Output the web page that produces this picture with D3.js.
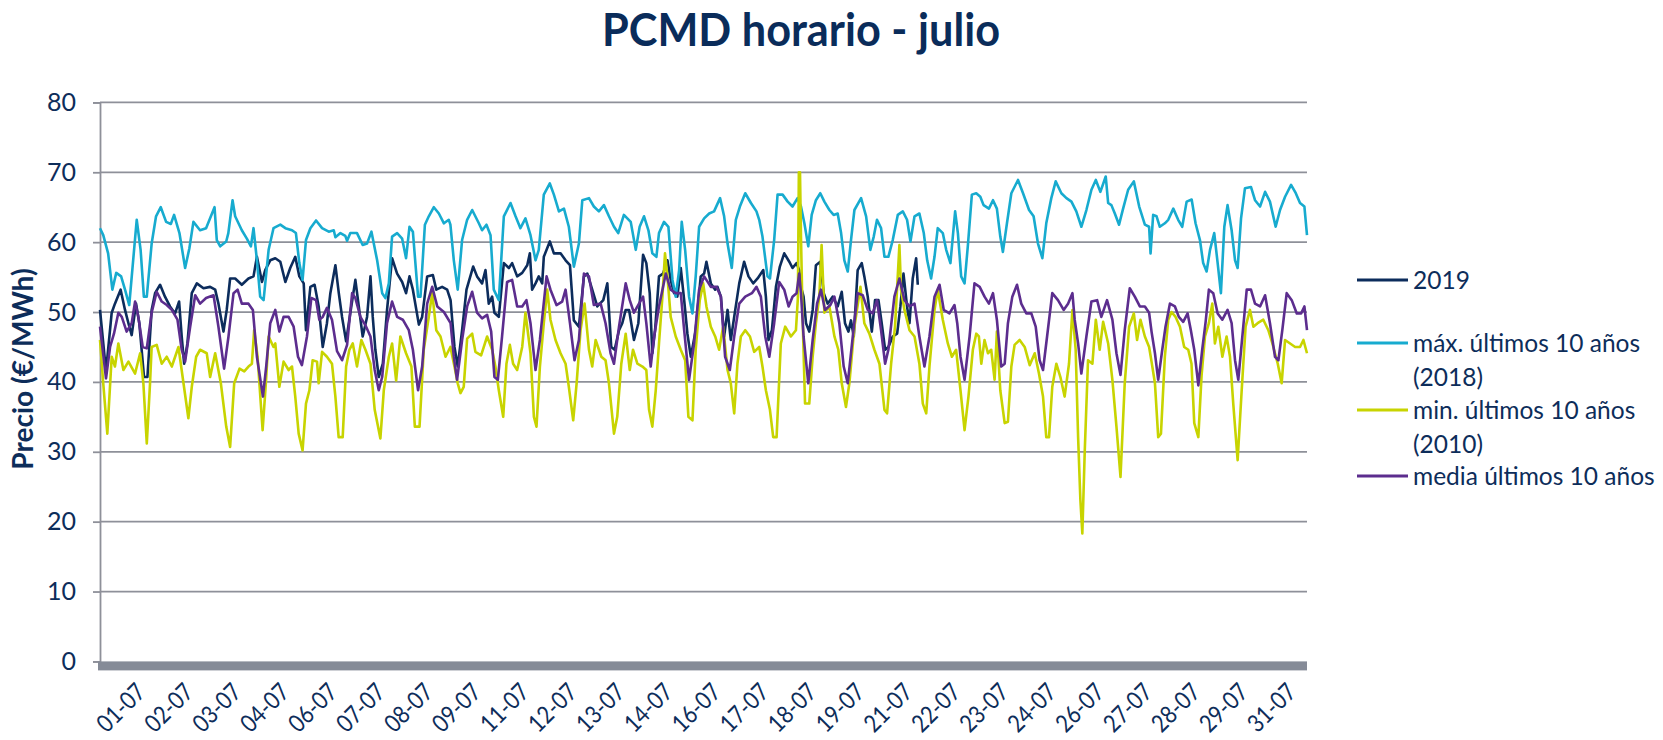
<!DOCTYPE html>
<html>
<head>
<meta charset="utf-8">
<script src="https://cdn.jsdelivr.net/npm/d3@7"></script>
<style>
  body { margin: 0; background: #fff; }
  svg text { font-family: Lato, "Open Sans", sans-serif; fill: #0d2d5a; }
</style>
</head>
<body>
<svg id="chart" width="1663" height="740"></svg>
<script>
// Hourly PCMD price, July. Each series is a list of [hour of month, €/MWh]
const serie2019 = [[0,50.3],[1.6,46.5],[3.7,41.5],[7.2,49.9],[9.2,51.2],[12.7,53.2],[15.4,50.3],[17.5,48.4],[19.5,46.7],[22.2,51.2],[24.2,48.4],[27.1,40.7],[29.2,40.7],[31.8,50.3],[33.9,52.7],[37,53.9],[40,52.2],[43.1,50.8],[46.2,49.8],[48.7,51.5],[50.3,46.5],[51.8,42.6],[53.8,45.5],[56.5,52.7],[59.6,54.1],[63.7,53.4],[67.8,53.6],[70.9,53.2],[72.9,51.2],[76,47.2],[78,50.3],[80.1,54.8],[83.2,54.8],[87.3,53.9],[91.4,54.8],[94.5,55.1],[96.6,57.9],[99.7,54.3],[101.7,56.0],[104.8,57.4],[107.9,57.7],
  [111,57.2],[114.1,54.3],[117.1,56.3],[120.2,57.9],[122.7,55.1],[125.4,54.1],[126.8,47.4],[129.5,53.6],[132.1,53.9],[134.6,50.8],[137.1,45.0],[139.7,48.4],[141.8,52.7],[144.9,56.7],[147,52.7],[149,49.3],[151.5,45.8],[154.1,49.9],[157.2,54.6],[159.3,50.8],[161.7,46.5],[164.4,49.3],[166.5,55.1],[167.9,49.3],[169.5,44.6],[171.6,40.7],[174.1,42.6],[176.7,50.3],[179.8,57.7],[182.9,55.5],[186,54.3],[188.4,52.7],[190.5,55.1],[192.6,53.2],[196.3,48.2],[198.3,49.3],[201.4,55.1],[204.9,55.3],[207,53.2],[210.6,53.6],[213.7,53.2],[215.8,51.7],
  [218.2,45.0],[220.2,42.2],[222.9,47.4],[225.6,53.2],[229.7,56.5],[232.1,55.1],[235.2,54.1],[237.3,56.0],[239.3,51.2],[241.4,52.2],[242.8,49.9],[245.5,49.3],[248.6,57.0],[251.7,56.3],[253.7,57.0],[256.8,55.1],[259.9,55.6],[263,56.7],[264.6,58.4],[266,53.2],[268.1,54.1],[270.1,55.1],[272.2,54.1],[273.2,57.9],[276.9,60.1],[279.4,58.4],[283.5,58.4],[286.6,57.4],[289.3,56.7],[291.7,48.8],[294.8,47.9],[297.9,55.1],[300,55.5],[303,53.2],[306.1,50.8],[309.8,51.7],[312.3,54.1],[314.7,45.0],[316.8,44.6],[319.5,47.4],[321.5,48.4],[323.6,50.3],
  [325.7,50.3],[328.7,46.0],[331.4,48.4],[334.3,58.2],[336.3,57.0],[338.4,52.7],[340,44.1],[341.7,47.4],[344.1,55.1],[346.6,55.5],[349.3,57.4],[351.3,54.6],[353.4,52.7],[355.4,52.2],[357.5,56.3],[359.6,51.7],[361.6,46.9],[363.7,43.6],[366.7,47.4],[369.8,55.1],[371.9,55.5],[373.3,57.2],[376,54.1],[378.7,53.2],[380.1,53.6],[382.2,52.2],[384.2,46.5],[386.3,50.3],[388.3,46.0],[390.4,49.3],[393.5,54.1],[396.5,57.2],[399.2,55.1],[402.1,54.1],[404.8,54.8],[408.3,56.0],[409.9,52.2],[411.5,46.0],[413.6,47.4],[416.1,53.6],[418.5,56.5],[421.2,58.4],[424.3,57.2],[426.3,56.3],[428.8,57.0],[430.4,56.0],
  [431.5,53.6],[433.1,52.2],[434.6,48.4],[436.6,47.2],[438.7,50.3],[440.7,56.7],[443.4,57.2],[445.5,52.7],[447.9,51.2],[451,52.2],[454.1,50.8],[456.6,52.9],[458.6,48.4],[460.7,47.2],[462.3,48.8],[464,46.5],[466.4,56.0],[468.9,57.0],[470.5,55.1],[472.6,52.2],[475.1,47.2],[477.1,51.7],[479.2,51.7],[481.2,48.4],[483.3,44.6],[485.3,45.0],[488,46.5],[490.7,46.9],[492.7,50.8],[494.6,55.5],[496.8,50.8],[498.3,48.4],[500.3,54.8],[502.4,57.7],[503.4,53.9]];

const max2018 = [[0,62.0],[2,61.0],[5,58.4],[7.6,53.2],[10,55.6],[13,55.1],[15.4,53.2],[18,51.0],[22.6,63.2],[25,58.9],[27,52.2],[28.8,52.2],[31.8,59.8],[34.5,63.7],[37.4,65.0],[40.7,62.9],[43.6,62.6],[45.6,63.9],[48.9,61.3],[52.4,56.3],[55,59.1],[57.5,62.9],[61.6,61.7],[65.3,62.0],[67.4,63.2],[70.5,65.0],[71.9,60.3],[74,59.4],[77.7,60.1],[79,61.3],[81.6,66.0],[83.2,63.7],[87.3,61.7],[90.4,60.5],[92.9,59.4],[94.5,62.0],[96.6,57.4],[98.6,52.2],[100.7,51.7],[103.8,58.9],[106.8,62.0],
  [111,62.5],[114.1,62.0],[118.2,61.7],[120.6,61.3],[122.7,57.0],[124.7,54.6],[126.8,60.3],[129.5,62.0],[133,63.1],[136.7,62.0],[140.8,61.5],[143.9,61.7],[144.9,60.7],[148,61.3],[151,60.9],[152.1,60.2],[154.1,61.3],[158.2,61.3],[161.7,59.6],[164.4,59.8],[167.1,61.5],[170.6,57.4],[173.7,52.7],[175.7,52.0],[177.8,54.1],[179.8,60.8],[182.9,61.3],[186,60.5],[188.4,57.7],[190.5,62.2],[192.6,61.5],[195.8,52.2],[197.3,52.2],[200,62.5],[202.4,63.7],[205.5,65.0],[208.6,64.1],[211.7,62.7],[214.7,63.2],
  [215.7,62.5],[217.8,57.4],[220.2,53.2],[222.9,60.3],[226,63.2],[229.1,64.6],[233.2,62.7],[235.2,61.7],[237.9,62.5],[240.4,61.0],[242.4,53.2],[245.5,51.7],[248.6,63.7],[252.7,65.6],[255.8,63.7],[258.8,62.0],[261.9,63.4],[265,61.0],[268.1,57.4],[270.1,58.9],[273.2,66.8],[276.9,68.4],[279.4,66.8],[282.5,64.4],[285.6,64.8],[288.6,62.2],[291.7,56.5],[294.8,59.8],[296.9,66.0],[301,66.3],[304,65.1],[307.1,64.4],[310.2,65.3],[313.3,63.7],[316.4,62.2],[319,61.3],[322.5,63.9],
  [326.7,62.9],[329.8,58.9],[332.2,62.2],[334.9,63.7],[337.6,61.7],[340,58.4],[342.5,57.9],[344.1,61.3],[347.2,62.9],[349.9,62.2],[352.4,54.6],[354.4,52.2],[356.5,56.0],[358.1,62.9],[360.2,58.9],[362.6,52.2],[364.7,49.8],[366.7,55.1],[368.8,62.2],[371.9,63.4],[375,64.1],[378,64.4],[381.7,66.3],[384.2,63.7],[386.3,59.8],[388.9,56.3],[391.4,63.2],[393.9,65.1],[397.2,67.0],[400.7,65.6],[404.1,64.4],[405.8,63.2],[407.8,60.8],[410.9,55.1],[412.4,54.8],[415,60.3],[417.1,66.8],[420.2,66.8],[423.3,65.8],[426.3,65.1],[429.4,66.3],
  [431.5,65.1],[433.6,62.7],[436,59.4],[438.1,63.9],[440.7,66.0],[443.4,67.0],[445.9,65.8],[449,64.6],[451.6,63.9],[454.1,64.1],[456.2,61.3],[458.2,57.4],[460.3,55.8],[462.3,60.3],[464.4,64.6],[468.5,66.3],[471.6,63.7],[474.2,58.9],[476.3,60.8],[478.3,63.2],[480.8,62.0],[482.9,57.9],[485.3,57.9],[488,60.3],[491.1,63.9],[494.2,64.4],[496.8,63.2],[498.9,60.1],[501.4,63.7],[504.4,64.1],[507.1,61.3],[509.2,57.4],[511.6,54.8],[513.7,57.9],[515.7,62.0],[518.8,61.3],[520.9,58.9],[523.5,57.0],[526.4,64.4],[528.1,61.3],[530.1,55.1],[532.2,54.1],[534.2,59.4],[536.7,66.8],
  [539.4,67.0],[541.9,66.5],[543.9,65.3],[547.2,64.8],[549.7,66.0],[552.1,64.8],[554.2,60.8],[555.8,58.6],[558.3,62.7],[561,67.0],[565.1,68.9],[568.2,67.0],[571.9,64.6],[574.7,63.7],[577.4,59.8],[580.1,57.7],[582.5,62.7],[585.6,66.3],[588.3,68.7],[591.8,67.0],[594.9,66.3],[598,65.8],[601,64.4],[604.1,62.2],[607.2,64.6],[610.3,67.5],[613,68.9],[615.8,67.2],[619.1,69.4],[620.6,65.6],[622.6,65.3],[624.7,64.1],[627.3,62.5],[629.8,64.8],[632.9,67.5],[636.4,68.7],[639.7,65.1],[643.2,62.5],[645.8,62.2],[646.7,58.4],
  [648.3,63.9],[650.4,63.7],[652.4,62.2],[655.5,62.7],[657.6,63.2],[660.7,64.8],[663.7,63.2],[666.2,62.2],[668.9,65.8],[672,66.1],[674.4,62.7],[677.1,60.3],[679.1,57.0],[681.2,55.8],[683.3,58.9],[685.9,61.3],[688,57.0],[690,52.7],[692.1,62.2],[694.1,65.3],[696.6,61.7],[698.7,57.4],[700.3,56.3],[702.4,63.4],[704.8,67.7],[708.5,67.9],[711,66.0],[714.1,65.1],[717.2,67.2],[720.2,65.8],[723.7,62.2],[726.4,64.6],[729.5,66.5],[733.2,68.2],[736.1,67.0],[738.7,65.6],[741.4,65.1],[743,61.0]];

const min2010 = [[0,46.0],[2,39.8],[4.5,32.6],[7.2,43.6],[9.2,42.2],[11.3,45.5],[14.4,41.7],[17.5,42.9],[21.6,41.2],[24.7,44.1],[26.7,39.8],[28.8,31.2],[30.8,39.8],[31.8,45.0],[34.9,45.3],[38,42.6],[41.1,43.6],[44.2,42.2],[48.3,45.0],[51.4,39.8],[54.4,34.8],[56.5,39.3],[59.2,43.6],[61.6,44.6],[65.7,44.1],[67.8,40.7],[70.9,44.1],[74.4,39.8],[77.7,33.6],[80.1,30.7],[82.6,39.8],[85.9,41.9],[88.8,41.5],[91.4,42.2],[93.5,42.6],[94.9,47.4],[97,43.6],[100.1,33.1],[102.1,39.8],[103.8,46.5],[106.8,45.0],
  [107.9,45.5],[110.4,39.3],[113,42.9],[116.1,41.7],[118.2,42.2],[120.2,37.9],[122.3,32.6],[124.7,30.2],[126.8,36.9],[128.9,38.8],[130.9,43.1],[133.6,42.9],[134.6,39.8],[136.7,44.3],[139.7,43.6],[142.8,42.6],[144.9,37.9],[146.9,32.1],[149.4,32.1],[151.5,42.2],[153.5,44.6],[155.6,45.5],[158.2,42.2],[160.9,46.0],[163.4,44.6],[166.5,42.6],[169.1,36.0],[172.6,31.9],[174.7,38.8],[177.8,43.6],[179.8,45.5],[182.3,40.2],[184.9,46.5],[188.4,44.1],[191.7,42.2],[193.8,33.6],[196.7,33.6],[199.3,44.6],[202.4,49.3],[204.5,52.7],[207,47.4],[209.6,46.5],[212.7,43.6],
  [215.7,45.0],[218.2,42.2],[220.2,39.8],[221.9,38.4],[223.9,39.3],[226,46.2],[229.1,46.9],[231.1,44.3],[234.6,43.8],[238.3,46.5],[241.4,44.6],[243.4,42.2],[245.5,38.8],[248.2,35.0],[250.2,42.6],[252.3,45.3],[254.3,42.6],[256.8,41.7],[259.9,45.0],[261.9,49.9],[265,44.1],[267.1,35.0],[268.7,33.6],[270.8,42.2],[273.2,48.4],[275.3,53.2],[277.3,48.9],[280.4,46.0],[283.5,44.1],[286.6,42.6],[288.6,39.3],[291.3,34.5],[293.4,39.8],[295.8,47.4],[298.3,51.2],[301,44.6],[303,42.2],[305.1,46.0],[308.6,43.6],[311.2,43.1],[313.3,39.8],[316.4,32.6],[318.4,35.0],[320.9,42.6],[323.6,46.9],
  [326.1,41.7],[328.1,44.6],[330.8,42.6],[333.9,42.2],[336.3,41.7],[338,36.0],[340,33.6],[342.1,38.8],[344.1,45.5],[346.2,52.2],[347.8,58.4],[349.3,55.1],[351.3,49.3],[354.4,46.5],[357.5,44.6],[360.2,43.1],[362.2,35.0],[364.7,34.5],[366.7,44.6],[369.2,51.7],[371.3,54.1],[373.3,50.8],[376,47.9],[378.7,46.5],[381.1,44.6],[383.6,47.9],[386.3,41.7],[388.3,39.8],[390.4,35.5],[392.4,42.6],[394.5,46.5],[397.2,47.4],[400.1,46.5],[402.7,44.3],[405.8,45.0],[407.8,42.2],[409.9,38.8],[412.4,36.0],[414.4,32.1],[416.5,32.1],[419.1,45.5],[421.8,47.9],[425.3,46.5],[428.4,47.4],[429.6,52.0],[430.2,70.0],[430.9,70.0],
  [431.5,60.8],[432.5,49.3],[434,36.9],[436.6,36.9],[438.7,43.6],[440.7,48.4],[442.8,52.2],[444.2,59.6],[445.9,49.9],[449,50.8],[452.1,46.5],[454.5,44.6],[456.6,39.8],[459.2,36.4],[461.3,39.8],[464.4,47.9],[468.1,53.6],[470.5,48.4],[473.6,46.9],[476.7,44.6],[479.8,42.6],[482.9,36.0],[484.5,35.5],[487,42.6],[489.4,47.9],[492.1,59.6],[493.1,53.2],[495.2,50.3],[498.3,47.4],[501.4,46.5],[504.4,42.6],[506.5,36.9],[508.6,35.5],[510.6,42.2],[513.7,50.3],[515.7,53.2],[518.8,48.9],[521.9,45.5],[524.4,43.6],[527,44.6],[529.7,38.8],[532.2,33.1],[534.6,37.9],[537.3,44.6],
  [539.4,46.9],[541,46.5],[542.5,42.6],[544.5,46.0],[546.6,44.1],[548.6,44.6],[550.7,40.3],[552.1,47.2],[554.2,38.8],[556.9,34.1],[558.9,34.3],[561,42.2],[563,45.3],[566.1,46.0],[569.2,45.0],[572.3,42.4],[575.4,44.1],[578,41.2],[580.5,37.9],[582.5,32.1],[584.2,32.1],[586.2,39.3],[588.7,42.6],[591.2,40.7],[593.8,37.9],[596.5,42.6],[598.6,50.3],[600.6,44.6],[602.1,32.1],[603.5,23.1],[604.7,18.3],[606.2,30.2],[608.2,43.1],[610.9,42.6],[613,48.9],[615.4,44.6],[617.5,48.6],[620.6,45.5],[623.2,40.3],[625.7,33.6],[628.2,26.4],[630.8,39.8],[633.5,47.9],[636.4,49.8],[638.4,46.0],[640.5,48.9],[643.2,46.5],[645.8,45.0],[647.3,42.9],
  [649.4,39.8],[651.4,32.1],[653.1,32.6],[655.5,43.6],[657.6,48.9],[659.6,50.0],[662.1,49.3],[664.8,47.9],[667.4,45.0],[669.9,44.6],[671.9,42.6],[673.6,34.1],[676.1,32.1],[678.1,40.9],[680.2,46.5],[682.6,48.4],[684.7,51.2],[686.3,45.5],[688.4,47.9],[690.9,43.6],[693.5,46.5],[695.6,43.6],[697.6,36.9],[700.3,28.8],[702.8,38.8],[705.2,47.9],[707.9,50.3],[710,47.9],[712.6,48.4],[716.1,48.9],[719.2,47.4],[721.7,45.5],[725,42.6],[727.4,39.8],[729.5,46.0],[732.6,45.5],[735.7,45.0],[738.7,45.0],[740.8,46.0],[743,44.1]];

const media10 = [[0,47.9],[3.7,40.5],[6.2,45.0],[8.6,46.9],[11.3,49.9],[13.4,49.3],[16.4,47.2],[19.5,48.4],[21.6,51.5],[23.6,49.3],[26.3,45.0],[28.8,44.8],[31.8,49.9],[34.9,52.9],[38,51.5],[41.1,51.0],[44.2,50.3],[47.7,48.9],[50.3,44.6],[52.4,42.9],[55.5,47.9],[58.6,52.4],[61.6,51.2],[65.3,52.0],[69.9,52.4],[72.9,47.9],[76.4,41.9],[79.1,46.5],[82.2,52.7],[84.7,53.2],[87.3,51.2],[91.4,51.2],[94.1,50.3],[96.6,43.6],[100.3,37.9],[102.3,42.2],[104.8,48.4],[107.9,50.3],
  [110.4,47.2],[113,49.3],[116.1,49.3],[119.2,47.9],[121.9,43.6],[124.3,42.4],[127.4,46.5],[130.1,52.0],[133,51.7],[135,48.9],[137.1,49.3],[139.7,50.6],[142.8,48.9],[145.9,44.4],[149,43.1],[152.1,45.3],[155.2,52.7],[157.2,52.0],[160.3,49.3],[163.4,48.1],[166.5,46.5],[169.1,41.7],[171.6,38.8],[173.7,40.7],[176.7,48.4],[179.8,51.5],[182.9,49.3],[186.4,48.9],[190.1,47.4],[192.6,44.6],[195.8,38.8],[198.3,42.2],[201.4,51.2],[204.5,53.6],[207.6,50.8],[211.7,50.0],[215.8,48.4],
  [217.8,43.6],[219.8,40.3],[222.9,46.0],[226,50.8],[229.1,52.9],[232.1,49.9],[235.2,49.1],[238.3,49.6],[240.8,47.2],[242.8,40.7],[244.9,40.3],[247.5,46.5],[250.6,54.3],[253.7,54.6],[256.8,50.8],[259.9,50.8],[262.5,51.7],[265,48.4],[268.1,41.7],[270.8,46.0],[274.9,55.1],[277.3,53.2],[281,51.0],[284.5,51.5],[286.6,53.2],[289.3,48.4],[292.1,43.1],[294.8,46.0],[297.9,55.5],[301,55.1],[304,51.0],[308.2,51.2],[311.2,48.4],[314.3,44.1],[316.4,42.6],[319.5,47.9],[323.6,54.1],
  [326.1,51.7],[328.7,49.9],[331.8,51.2],[334.3,52.2],[336.3,48.4],[339,42.2],[341.1,46.5],[344.1,50.8],[348.3,55.5],[351.3,53.2],[354.4,52.7],[357.5,52.7],[359.6,47.4],[362.6,40.3],[365.7,45.5],[368.8,53.2],[371.9,55.1],[376,53.6],[379.5,53.6],[382.2,52.2],[384.8,43.6],[387.7,41.7],[390.4,46.5],[393.5,51.2],[397.2,52.2],[401.3,52.7],[404.1,53.6],[406.8,52.2],[409.5,46.5],[412,43.6],[415,48.4],[418.1,54.3],[421.2,53.2],[423.9,50.8],[426.3,52.2],[428.8,52.7],[430.4,55.5],
  [431.5,52.7],[433.1,46.5],[436,39.8],[438.7,46.0],[441.4,51.2],[443.8,53.2],[446.3,50.3],[449.6,51.0],[452.1,52.2],[455.1,48.4],[457.8,42.2],[460.3,39.8],[463.4,46.5],[466.4,52.7],[469.5,52.4],[472.6,50.3],[475.7,49.8],[478.3,51.7],[480.8,47.4],[483.3,42.6],[485.3,44.6],[489,52.2],[492.1,54.8],[495.2,51.7],[498.3,50.8],[501.4,51.2],[504.4,46.5],[507.5,42.2],[510.6,46.5],[513.7,52.2],[516.8,53.9],[519.4,50.3],[522.9,49.8],[526,51.0],[527.7,48.4],[529.7,43.6],[532.2,40.3],[535.3,46.5],[538.3,54.1],
  [541.5,53.6],[544.5,52.2],[547.2,51.2],[549.7,52.7],[552.1,48.9],[554.8,42.2],[556.9,42.6],[558.9,48.4],[561.6,52.2],[564.5,53.9],[567.1,51.2],[570.2,49.8],[573.3,49.8],[576,47.9],[578.4,43.1],[580.5,41.7],[583,46.5],[586.2,52.7],[589.7,51.7],[593.2,50.3],[595.9,51.2],[598.6,52.7],[600,48.9],[602.1,45.5],[604.1,41.2],[607.2,46.5],[610.3,51.5],[613.8,51.7],[616.4,49.3],[619.9,51.7],[623.2,48.9],[625.7,44.1],[628.2,41.0],[630.8,47.4],[633.9,53.4],[637,52.2],[640.1,50.8],[643.2,50.8],[645.8,49.9],[647.3,47.2],
  [649.4,44.1],[651.4,40.3],[653.9,44.6],[655.9,47.9],[658.6,51.2],[661.7,50.8],[664.1,49.3],[666.8,48.6],[669.5,49.8],[671.5,47.4],[673.6,44.6],[676.1,39.5],[678.5,44.6],[680.6,48.6],[682.6,53.2],[685.3,52.7],[688,49.8],[690.9,48.9],[694.1,50.3],[696.6,48.4],[698.7,43.1],[700.7,40.3],[703.2,46.5],[705.9,53.2],[708.5,53.2],[711,51.2],[714.1,50.8],[717.2,52.4],[720.2,48.4],[723.3,43.6],[725.4,43.1],[727.8,47.4],[730.5,52.7],[733.6,51.7],[736.7,49.8],[739.4,49.8],[741.4,50.8],[743,47.4]];

// Excel shows one label every 30 hours
const tickLabels = ["01-07","02-07","03-07","04-07","06-07","07-07","08-07","09-07","11-07","12-07","13-07","14-07","16-07","17-07","18-07","19-07","21-07","22-07","23-07","24-07","26-07","27-07","28-07","29-07","31-07"];
const yTicks = [0, 10, 20, 30, 40, 50, 60, 70, 80];

const series = [
  { name: ["2019"], data: serie2019, color: "#0c2c5c" },
  { name: ["máx. últimos 10 años", "(2018)"], data: max2018, color: "#17abcf" },
  { name: ["min. últimos 10 años", "(2010)"], data: min2010, color: "#c8d400" },
  { name: ["media últimos 10 años"], data: media10, color: "#5c2d8e" }
];

const plot = { left: 100, right: 1307, top: 102.4, bottom: 661.4 };
const svg = d3.select("#chart");

const x = d3.scaleLinear().domain([0, 743]).range([plot.left, plot.right]);
const y = d3.scaleLinear().domain([0, 80]).range([plot.bottom, plot.top]);

// title
svg.append("text")
  .attr("x", 801).attr("y", 46)
  .attr("text-anchor", "middle")
  .attr("textLength", 398).attr("lengthAdjust", "spacingAndGlyphs")
  .style("font-size", "45px").style("font-weight", "bold")
  .style("fill", "#0a2c5a")
  .text("PCMD horario - julio");

// horizontal gridlines
svg.append("g")
  .selectAll("line")
  .data(yTicks.filter(d => d > 0))
  .enter().append("line")
    .attr("x1", plot.left).attr("x2", plot.right)
    .attr("y1", d => y(d)).attr("y2", d => y(d))
    .style("stroke", "#8e9099").style("stroke-width", 1.8);

// y axis
const yAxis = svg.append("g")
  .attr("transform", `translate(${plot.left},0)`)
  .call(d3.axisLeft(y).tickValues(yTicks).tickSize(7).tickPadding(17));
yAxis.select(".domain").style("stroke", "#8e9099").style("stroke-width", 1.8);
yAxis.selectAll(".tick line").style("stroke", "#8e9099").style("stroke-width", 1.8);
yAxis.selectAll(".tick text")
  .style("font-size", "25px").style("font-family", "Lato, sans-serif").style("fill", "#0d2d5a");

// y axis title
svg.append("text")
  .attr("transform", "translate(33,369) rotate(-90)")
  .attr("text-anchor", "middle")
  .style("font-size", "28px").style("font-weight", "bold")
  .text("Precio (€/MWh)");

// floor of the plot
svg.append("rect")
  .attr("x", plot.left - 2).attr("y", plot.bottom)
  .attr("width", plot.right - plot.left + 2).attr("height", 9)
  .style("fill", "#858b97");

// x axis labels, rotated 45 degrees
const xAxis = svg.append("g")
  .attr("transform", `translate(0,${plot.bottom + 9})`)
  .call(d3.axisBottom(x).tickValues(tickLabels.map((d, i) => i * 30))
    .tickFormat((d, i) => tickLabels[i]).tickSize(0));
xAxis.select(".domain").remove();
xAxis.selectAll(".tick text")
  .attr("y", 0).attr("dy", "0.35em")
  .attr("text-anchor", "end")
  .attr("textLength", 57).attr("lengthAdjust", "spacingAndGlyphs")
  .attr("transform", (d, i) => `translate(${40.5 - i * 0.79},17) rotate(-45)`)
  .style("font-size", "24.5px").style("font-family", "Lato, sans-serif").style("fill", "#0d2d5a");

// lines
const line = d3.line()
  .x(d => x(d[0]))
  .y(d => y(d[1]));

svg.append("g")
  .selectAll("path")
  .data(series)
  .enter().append("path")
    .attr("d", d => line(d.data))
    .style("fill", "none")
    .style("stroke", d => d.color)
    .style("stroke-width", 2.6)
    .style("stroke-linejoin", "round");

// legend
const legendRows = [280, 343, 410, 476];
const legend = svg.append("g");
series.forEach((s, i) => {
  legend.append("line")
    .attr("x1", 1357).attr("x2", 1408)
    .attr("y1", legendRows[i]).attr("y2", legendRows[i])
    .style("stroke", s.color).style("stroke-width", 2.8);
  s.name.forEach((t, j) => {
    legend.append("text")
      .attr("x", 1413).attr("y", legendRows[i] + j * 34)
      .attr("dy", "0.35em")
      .style("font-size", "24.5px")
      .text(t);
  });
});
</script>
</body>
</html>
